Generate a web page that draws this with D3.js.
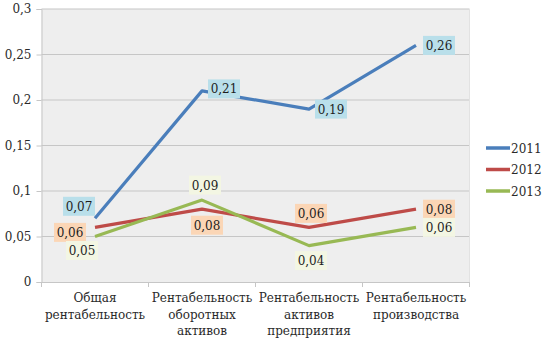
<!DOCTYPE html>
<html><head><meta charset="utf-8">
<script src="https://cdn.jsdelivr.net/npm/d3@7"></script>
<style>body{margin:0;background:#fff}svg{display:block}text{font-family:"DejaVu Serif",serif}</style>
</head><body><svg id="c" width="548" height="340"></svg>
<script>
const categories = [["Общая","рентабельность"],["Рентабельность","оборотных","активов"],["Рентабельность","активов","предприятия"],["Рентабельность","производства"]];
const years = ["2011","2012","2013"];
const v2011 = [0.07,0.21,0.19,0.26];
const v2012 = [0.06,0.08,0.06,0.08];
const v2013 = [0.05,0.09,0.04,0.06];
const yTicks = [0,0.05,0.1,0.15,0.2,0.25,0.3];
const colors = ["#4a7ebb","#be4b48","#98b954"];
const labelBg = ["#b9dfea","#fbd6b6","#f3f6e3"];
// label placement: [dx, dy] offset of box centre from point
const labelPos = [
  [[-16,-12],[22,-2],[22,0],[23,0]],
  [[-25,5],[5,16],[2,-14],[23,0]],
  [[-13,14],[3,-15],[2,15],[23,0]]
];
const series = [v2011,v2012,v2013];

const svg = d3.select("#c");
const x0=41.5, x1=469.5, yTop=9, yBot=282;
const x = d3.scaleBand().domain(d3.range(categories.length)).range([x0,x1]);
const y = d3.scaleLinear().domain([0,0.3]).range([yBot,yTop]);
const fmt = v => d3.format(".2~f")(v).replace(".",",");
const txt = "#2a2a2a";

svg.append("rect").attr("x",x0).attr("y",yTop).attr("width",x1-x0).attr("height",yBot-yTop).attr("fill","#eeeeee");
svg.append("g").selectAll("line").data(yTicks.slice(1)).join("line")
  .attr("x1",x0).attr("x2",x1).attr("y1",d=>y(d)).attr("y2",d=>y(d))
  .attr("stroke","#c6c6c6").attr("stroke-width",1.2);
const ya = svg.append("g").attr("transform",`translate(${x0},0)`)
  .call(d3.axisLeft(y).tickValues(yTicks).tickFormat(d=>d===0?"0":fmt(d)).tickSize(5).tickPadding(5));
ya.select(".domain").attr("stroke","#c6c6c6");
ya.selectAll(".tick line").attr("stroke","#c6c6c6");
ya.selectAll("text").attr("font-size",12).attr("fill",txt).attr("font-family","DejaVu Serif");
svg.append("line").attr("x1",x1).attr("x2",x1).attr("y1",yTop).attr("y2",yBot).attr("stroke","#e2e2e2");
const xa = svg.append("g").attr("transform",`translate(0,${yBot})`)
  .call(d3.axisBottom(x).tickFormat("").tickSize(0));
xa.select(".domain").attr("stroke","#c6c6c6");
svg.append("g").selectAll("line").data(d3.range(categories.length+1)).join("line")
  .attr("x1",i=>x0+i*x.bandwidth()).attr("x2",i=>x0+i*x.bandwidth())
  .attr("y1",yBot).attr("y2",yBot+5).attr("stroke","#c6c6c6");
svg.append("g").selectAll("text").data(categories).join("text")
  .attr("x",(d,i)=>x(i)+x.bandwidth()/2).attr("y",302)
  .attr("text-anchor","middle").attr("font-size",12).attr("fill",txt)
  .selectAll("tspan").data(d=>d).join("tspan")
  .attr("x",function(){return this.parentNode.getAttribute("x");})
  .attr("dy",(d,i)=>i===0?0:16.5).text(d=>d);

const cx = i => x(i)+x.bandwidth()/2;
const line = d3.line().x((d,i)=>cx(i)).y(d=>y(d));
series.forEach((s,k)=>{
  svg.append("path").datum(s).attr("d",line).attr("fill","none")
    .attr("stroke",colors[k]).attr("stroke-width",3.2).attr("stroke-linejoin","round");
});
series.forEach((s,k)=>{
  s.forEach((v,i)=>{
    const px=cx(i)+labelPos[k][i][0], py=y(v)+labelPos[k][i][1];
    svg.append("rect").attr("x",px-16).attr("y",py-9.5).attr("width",32).attr("height",19).attr("fill",labelBg[k]);
    svg.append("text").attr("x",px).attr("y",py+4.5).attr("text-anchor","middle")
      .attr("font-size",12).attr("fill","#1e1e1e").text(fmt(v));
  });
});
years.forEach((yr,k)=>{
  const ly = 148 + k*21.5;
  svg.append("line").attr("x1",486).attr("x2",510).attr("y1",ly).attr("y2",ly)
    .attr("stroke",colors[k]).attr("stroke-width",3.5);
  svg.append("text").attr("x",511).attr("y",ly+4.5).attr("font-size",12).attr("fill",txt).text(yr);
});
</script></body></html>
